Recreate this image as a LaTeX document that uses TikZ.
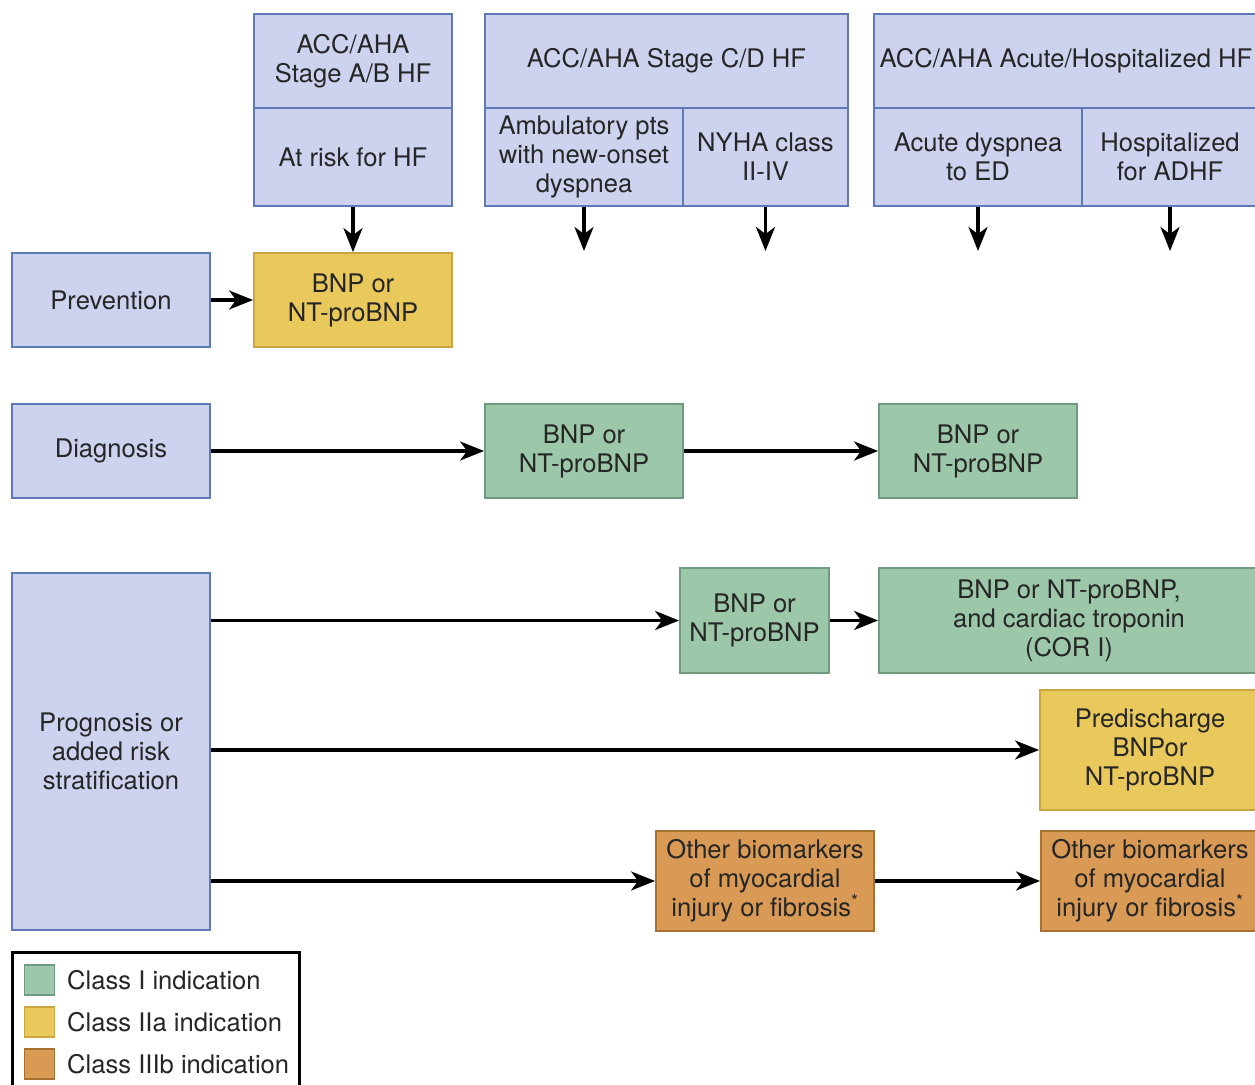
\documentclass[tikz,border=0pt]{standalone}
\usepackage{fontspec}
\setmainfont{TeX Gyre Heros}
\usetikzlibrary{arrows.meta}
\definecolor{bluefill}{HTML}{CDD3EF}
\definecolor{blueline}{HTML}{5D79B8}
\definecolor{yelfill}{HTML}{E9C85C}
\definecolor{yelline}{HTML}{C9A640}
\definecolor{grnfill}{HTML}{9CC8A9}
\definecolor{grnline}{HTML}{6F9C80}
\definecolor{orgfill}{HTML}{D99A56}
\definecolor{orgline}{HTML}{A8712F}
\definecolor{ink}{HTML}{262626}
\tikzset{
  box/.style={rectangle, line width=1.8pt, inner sep=2pt, align=center,
    text=ink, font=\fontsize{25.6}{29}\selectfont},
  bluebox/.style={box, draw=blueline, fill=bluefill},
  yelbox/.style={box, draw=yelline, fill=yelfill},
  grnbox/.style={box, draw=grnline, fill=grnfill},
  orgbox/.style={box, draw=orgline, fill=orgfill},
  wh/.style 2 args={minimum width=#1, minimum height=#2},
  arr/.style={line width=3.2pt, draw=black,
    -{Stealth[length=24pt,width=19pt,inset=7pt]}},
  legsq/.style={rectangle, line width=1.4pt, minimum width=30, minimum height=30},
  legtxt/.style={anchor=west, text=ink, font=\fontsize{25.6}{29}\selectfont, inner sep=0pt}
}
\begin{document}
\begin{tikzpicture}[x=1pt, y=-1pt]
\clip (0,0) rectangle (1255,1084);
\fill[white] (0,0) rectangle (1255,1084);

% column headers
\node[bluebox, wh={198}{94}] (abh) at (353,61) {ACC/AHA\\Stage A/B HF};
\node[bluebox, wh={198}{98}] (abl) at (353,157) {At risk for HF};

\node[bluebox, wh={363}{94}] (cdh) at (666.5,61) {ACC/AHA Stage C/D HF};
\node[bluebox, wh={198}{98}] (cdl) at (584,157) {Ambulatory pts\\with new-onset\\dyspnea};
\node[bluebox, wh={165}{98}] (cdr) at (765.5,157) {NYHA class\\II-IV};

\node[bluebox, wh={384}{94}] (ach) at (1066,61) {ACC/AHA Acute/Hospitalized HF};
\node[bluebox, wh={208}{98}] (acl) at (978,157) {Acute dyspnea\\to ED};
\node[bluebox, wh={176}{98}] (acr) at (1170,157) {Hospitalized\\for ADHF};

% row labels
\node[bluebox, wh={198}{94}] (prev) at (111,300) {Prevention};
\node[bluebox, wh={198}{94}] (diag) at (111,451) {Diagnosis};
\node[bluebox, wh={198}{357}] (prog) at (111,751.5) {Prognosis or\\added risk\\stratification};

% prevention row
\node[yelbox, wh={198}{94}] (pv1) at (353,300) {BNP or\\NT-proBNP};

% diagnosis row
\node[grnbox, wh={198}{94}] (dg1) at (584,451) {BNP or\\NT-proBNP};
\node[grnbox, wh={198}{94}] (dg2) at (978,451) {BNP or\\NT-proBNP};

% prognosis rows
\node[grnbox, wh={149}{105}] (pg1) at (754.5,620.5) {BNP or\\NT-proBNP};
\node[grnbox, wh={380}{105}] (pg2) at (1069,620.5) {BNP or NT-proBNP,\\and cardiac troponin\\(COR I)};
\node[yelbox, wh={220}{120}] (pg3) at (1150,750) {Predischarge\\BNPor\\NT-proBNP};
\node[orgbox, wh={218}{100}] (pg4) at (765,881) {Other biomarkers\\of myocardial\\injury or fibrosis\textsuperscript{*}};
\node[orgbox, wh={218}{100}] (pg5) at (1150,881) {Other biomarkers\\of myocardial\\injury or fibrosis\textsuperscript{*}};

% arrow ends below the headers
\coordinate (e2) at (584,251);
\coordinate (e3) at (765.5,251);
\coordinate (e4) at (978,251);
\coordinate (e5) at (1170,251);

% connectors
\draw[arr] (abl.south) -- (pv1.north);
\draw[arr] (cdl.south) -- (e2);
\draw[arr] (cdr.south) -- (e3);
\draw[arr] (acl.south) -- (e4);
\draw[arr] (acr.south) -- (e5);

\draw[arr] (prev.east) -- (pv1.west);
\draw[arr] (diag.east) -- (dg1.west);
\draw[arr] (dg1.east) -- (dg2.west);

\draw[arr] (prog.east |- pg1.west) -- (pg1.west);
\draw[arr] (pg1.east) -- (pg2.west);
\draw[arr] (prog.east |- pg3.west) -- (pg3.west);
\draw[arr] (prog.east |- pg4.west) -- (pg4.west);
\draw[arr] (pg4.east) -- (pg5.west);

% legend
\draw[line width=3pt, draw=black, fill=white] (12,952) rectangle (299,1095);
\node[legsq, draw=grnline, fill=grnfill] (lg1) at (39.5,980) {};
\node[legsq, draw=yelline, fill=yelfill] (lg2) at (39.5,1022) {};
\node[legsq, draw=orgline, fill=orgfill] (lg3) at (39.5,1064) {};
\node[legtxt] (lt1) at (67,980) {Class I indication};
\node[legtxt] (lt2) at (67,1022) {Class IIa indication};
\node[legtxt] (lt3) at (67,1064) {Class IIIb indication};
\end{tikzpicture}
\end{document}
